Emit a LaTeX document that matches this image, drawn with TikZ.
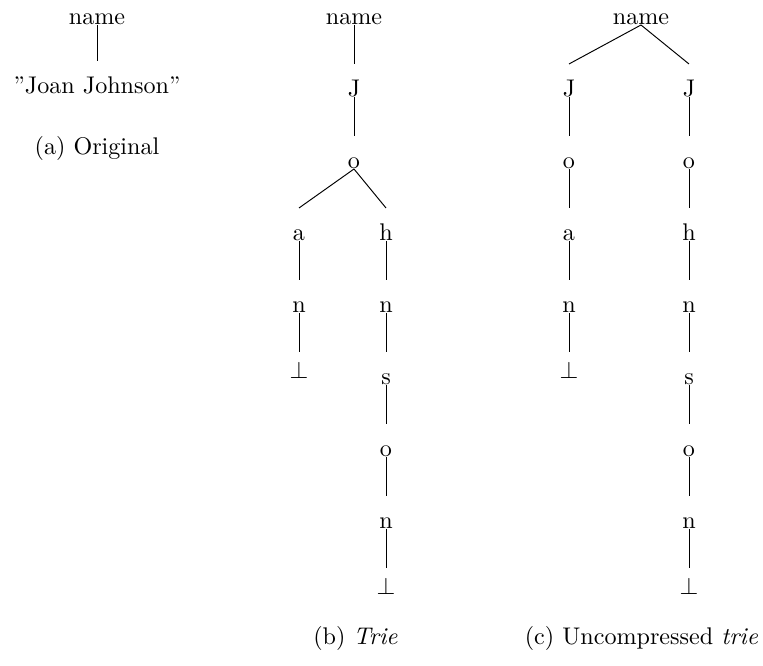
\documentclass[tikz,border=0pt]{standalone}
\newcommand\tedge[2]{\draw[conn] (#1.base) -- ([yshift=13.7pt]#2.base);}
\newcommand\botsym{\raisebox{2.5pt}{$\bot$}}
\begin{document}
\begin{tikzpicture}[x=0.415pt,y=-0.415pt,
  lbl/.style={anchor=base,inner sep=0pt},
  conn/.style={line width=0.4pt}]
\useasboundingbox (0,0) rectangle (763,666);
% (a)
\node[lbl] (aname) at (97,25) {name};
\node[lbl] (aval) at (97,94) {\textquotedblright Joan Johnson\textquotedblright};
\node[lbl] (acap) at (97,155) {(a) Original};
\tedge{aname}{aval}
% (b)
\node[lbl] (bname) at (354,25) {name};
\node[lbl] (bJ) at (354,97) {J};
\node[lbl] (bo) at (354,169) {o};
\node[lbl] (ba) at (299,241) {a};
\node[lbl] (ban) at (299,313) {n};
\node[lbl] (babot) at (299,385) {\botsym};
\node[lbl] (bh) at (386,241) {h};
\node[lbl] (bhn) at (386,313) {n};
\node[lbl] (bs) at (386,385) {s};
\node[lbl] (bso) at (386,457) {o};
\node[lbl] (bson) at (386,529) {n};
\node[lbl] (bbot) at (386,601) {\botsym};
\node[lbl] (bcap) at (355.5,645) {(b) \textit{Trie}};
\tedge{bname}{bJ}
\tedge{bJ}{bo}
\tedge{bo}{ba}
\tedge{ba}{ban}
\tedge{ban}{babot}
\tedge{bo}{bh}
\tedge{bh}{bhn}
\tedge{bhn}{bs}
\tedge{bs}{bso}
\tedge{bso}{bson}
\tedge{bson}{bbot}
% (c)
\node[lbl] (cname) at (641,25) {name};
\node[lbl] (cJ1) at (569,97) {J};
\node[lbl] (co1) at (569,169) {o};
\node[lbl] (ca1) at (569,241) {a};
\node[lbl] (cn1) at (569,313) {n};
\node[lbl] (cbot1) at (569,385) {\botsym};
\node[lbl] (cJ2) at (689,97) {J};
\node[lbl] (co2) at (689,169) {o};
\node[lbl] (ch2) at (689,241) {h};
\node[lbl] (cn2) at (689,313) {n};
\node[lbl] (cs2) at (689,385) {s};
\node[lbl] (co3) at (689,457) {o};
\node[lbl] (cn3) at (689,529) {n};
\node[lbl] (cbot2) at (689,601) {\botsym};
\node[lbl] (ccap) at (641.5,645) {(c) Uncompressed \textit{trie}};
\tedge{cname}{cJ1}
\tedge{cJ1}{co1}
\tedge{co1}{ca1}
\tedge{ca1}{cn1}
\tedge{cn1}{cbot1}
\tedge{cname}{cJ2}
\tedge{cJ2}{co2}
\tedge{co2}{ch2}
\tedge{ch2}{cn2}
\tedge{cn2}{cs2}
\tedge{cs2}{co3}
\tedge{co3}{cn3}
\tedge{cn3}{cbot2}
\end{tikzpicture}
\end{document}
